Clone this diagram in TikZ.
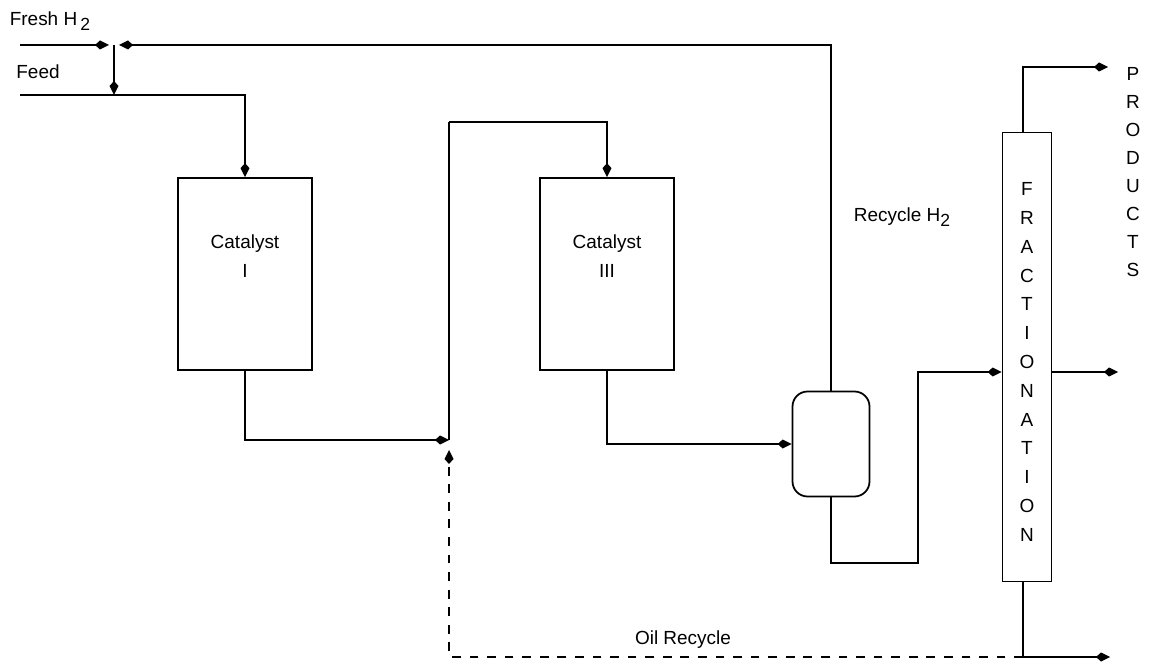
\documentclass[tikz,border=0pt]{standalone}
\usepackage{fontspec}
\setmainfont{Liberation Sans}
\usepackage{tikz}
\usetikzlibrary{arrows.meta}
\tikzstyle{reactor} = [rectangle, draw=black, line width=1pt, minimum width=2.68cm, minimum height=3.84cm]
\tikzstyle{separator} = [rectangle, rounded corners=0.3cm, draw=black, line width=1pt, minimum width=1.54cm, minimum height=2.1cm]
\tikzstyle{column} = [rectangle, draw=black, line width=1pt, minimum width=0.98cm, minimum height=8.98cm]
\tikzstyle{stack} = [align=center, inner sep=0pt, font=\fontsize{10.8}{16.4}\selectfont]
\tikzstyle{lbl} = [inner sep=1pt, font=\fontsize{10.8}{12.5}\selectfont]
\tikzstyle{line} = [line width=1pt]
\tikzstyle{arrow} = [line width=1pt,-{Kite[length=2.8mm,width=1.8mm,inset=1mm]}]
\tikzstyle{recycle} = [line width=1pt, dash pattern=on 5pt off 5pt]
\newcommand{\lowtwo}{\raisebox{-0.45ex}{\fontsize{10}{12}\selectfont 2}}

\begin{document}
\begin{tikzpicture}[x=0.02cm, y=-0.02cm]
\useasboundingbox (0,0) rectangle (1152,665);

\node (cat1) [reactor] at (245,274) {};
\node (cat1text) [lbl, align=center] at (245,256) {Catalyst\\[4pt]I};
\node (cat3) [reactor] at (607,274) {};
\node (cat3text) [lbl, align=center] at (607,256) {Catalyst\\[4pt]III};
\node (sep) [separator] at (831,444) {};
\node (frac) [column] at (1027,357) {};
\node (fractext) [stack] at (1027,362) {F\\R\\A\\C\\T\\I\\O\\N\\A\\T\\I\\O\\N};
\node (products) [stack, font=\fontsize{10.8}{15.9}\selectfont] at (1133,172) {P\\R\\O\\D\\U\\C\\T\\S};

\node (fresh) [lbl] at (50,21) {Fresh H\,\lowtwo};
\node (feed) [lbl] at (38,72) {Feed};
\node (rech2) [lbl] at (902,217) {Recycle H\lowtwo};
\node (oilrec) [lbl] at (683,640) {Oil Recycle};

\coordinate (freshstart) at (20,45);
\coordinate (jH) at (114,45);
\coordinate (feedstart) at (20,95);
\coordinate (jF) at (114,95);
\coordinate (mix) at (449,440);
\coordinate (mixtop) at (449,122);
\coordinate (midlvl) at (0,372);
\coordinate (prodtop) at (1108,67);
\coordinate (prodmid) at (1118,372);
\coordinate (prodbot) at (1110,657);
\coordinate (bottom) at (1027,657);

\draw [arrow] (freshstart) -- ([xshift=-0.1cm]jH);
\draw [arrow] (sep.north) -- (sep.north |- jH) -- ([xshift=0.1cm]jH);
\draw [arrow] (jH) -- (jF);
\draw [arrow] (feedstart) -- (cat1.north |- feedstart) -- (cat1.north);
\draw [arrow] (cat1.south) -- (cat1.south |- mix) -- (mix);
\draw [line] (mix) -- (mixtop);
\draw [arrow] (mixtop) -- (cat3.north |- mixtop) -- (cat3.north);
\draw [arrow] (cat3.south) -- (cat3.south |- sep.west) -- (sep.west);
\draw [arrow] (sep.south) -- ++(0,66) -- ++(87,0) -- (918,372) -- (frac.west |- midlvl);
\draw [arrow] ([xshift=-0.08cm]frac.north) -- ([xshift=-0.08cm]frac.north |- prodtop) -- (prodtop);
\draw [arrow] (frac.east |- midlvl) -- (prodmid);
\draw [arrow] ([xshift=-0.08cm]frac.south) -- ([xshift=-0.08cm]bottom) -- (prodbot);
\draw [recycle, -{Kite[length=2.8mm,width=1.8mm,inset=1mm]}] ([xshift=-0.08cm]bottom) -- (mix |- bottom) -- ([yshift=-0.2cm]mix);

\end{tikzpicture}
\end{document}
